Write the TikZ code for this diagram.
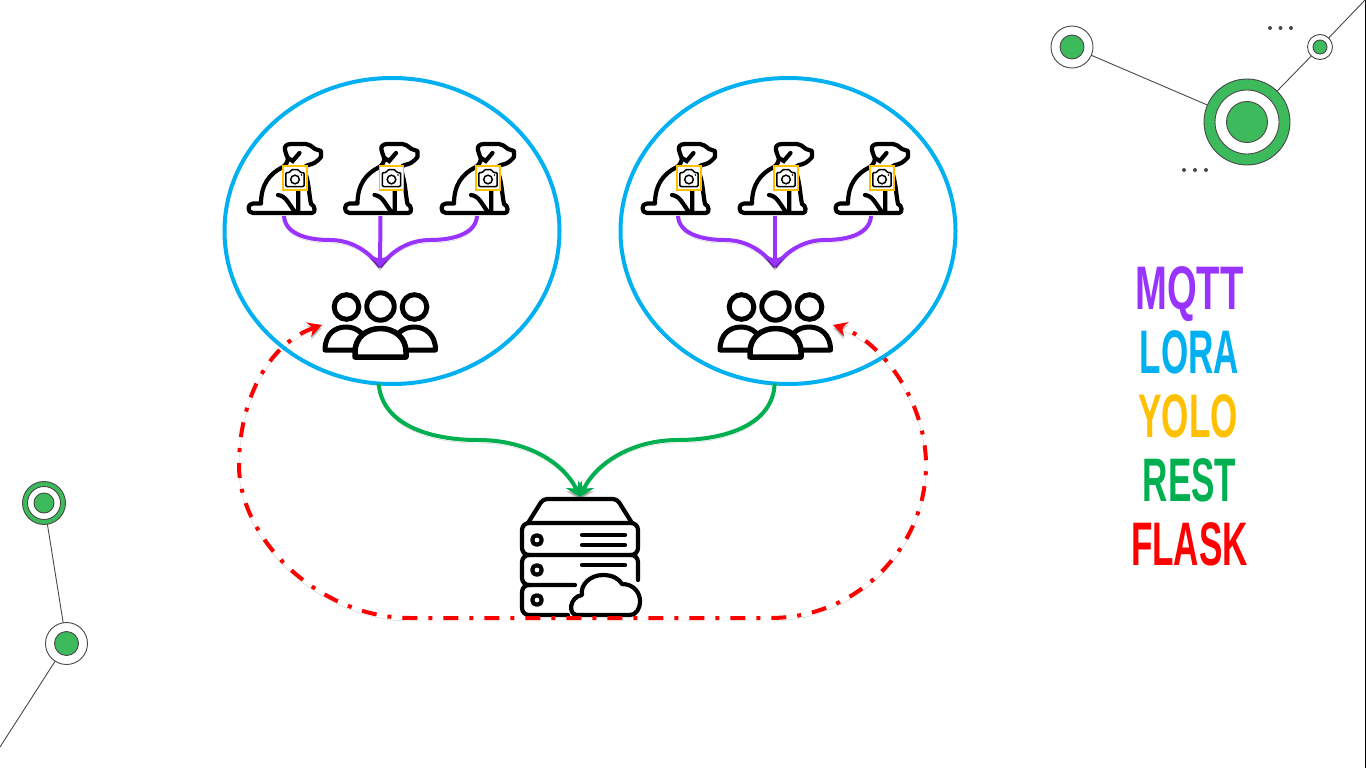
\documentclass[tikz,border=0pt]{standalone}
\usepackage{fontspec}
\usetikzlibrary{shapes.geometric,arrows.meta}
\newfontfamily\labelfont[FakeStretch=0.57]{Liberation Sans}
\definecolor{mqttcol}{HTML}{9933FF}
\definecolor{loracol}{HTML}{00B0F0}
\definecolor{yolocol}{HTML}{FFC000}
\definecolor{restcol}{HTML}{00B050}
\definecolor{flaskcol}{HTML}{FF0000}
\definecolor{dotgreen}{HTML}{3DBA5B}
\definecolor{dotline}{HTML}{484848}
\tikzset{
  softshadow/.style={preaction={draw=black,opacity=.2,transform canvas={yshift=-3pt}}},
  zone/.style={ellipse,draw=loracol,line width=4pt,minimum width=335pt,minimum height=306pt,inner sep=0,outer sep=0},
  iconbox/.style={inner sep=0,outer sep=0,minimum width=#1},
  ring/.style={circle,draw=dotline,line width=.9pt,fill=white,inner sep=0,outer sep=0,minimum size=#1},
  core/.style={circle,draw=dotline,line width=.9pt,fill=dotgreen,inner sep=0,outer sep=0,minimum size=#1},
  wire/.style={draw=dotline,line width=.9pt},
  tinydot/.style={circle,fill=dotline,inner sep=0,minimum size=4pt},
  mqttflow/.style={draw=mqttcol,line width=4pt,softshadow},
  restflow/.style={draw=restcol,line width=4pt,softshadow,-{Stealth[length=14pt,width=18pt]}},
  flaskflow/.style={draw=flaskcol,line width=4pt,softshadow,dash pattern=on 15pt off 11pt on 4pt off 11pt,
    {Stealth[length=14pt,width=15pt]}-{Stealth[length=14pt,width=15pt]}},
  protocol/.style={font=\labelfont\bfseries\fontsize{61.5}{61.5}\selectfont,inner sep=0,anchor=base,text=#1},
  dogicon/.pic={
    \draw [black,line width=4.2pt,line join=round,line cap=round,fill=white]
      (-23,24.5) -- (-31,24.5) .. controls (-37,24.5) and (-37,34) .. (-31,34) -- (28,34)
      .. controls (32,34) and (31,26) .. (27,25) .. controls (25,15) and (25,6) .. (22,-4)
      .. controls (21,-10) and (20,-13) .. (24,-14) .. controls (29,-15) and (32,-16) .. (37,-22)
      -- (37,-28) -- (31,-30) .. controls (27,-33) and (25,-35) .. (22,-35) -- (7,-35)
      .. controls (2,-35) and (0,-32) .. (1,-29) .. controls (2,-25) and (3,-23) .. (4,-20)
      .. controls (3,-15) and (0,-12) .. (-3,-11) .. controls (-14,-5) and (-23,5) .. (-23,24.5);
    \draw [black,line width=4.2pt,line cap=round]
      (4,-21) -- (8.7,-18) -- (15.5,-26)
      (-6,16) .. controls (2,17) and (4,24) .. (11,33)
      (14.3,9) -- (14.3,33);
    \node [draw=yolocol,line width=1.3pt,fill=white,minimum size=24pt,inner sep=0,outer sep=0] at (11,-1) {};
    \draw [black,line width=1.5pt,line join=round,fill=white,rounded corners=1.2pt]
      (1.8,-6.5) -- (6,-6.5) -- (7.5,-9.5) -- (14.5,-9.5) -- (16,-6.5) -- (20.2,-6.5) -- (20.2,7.5) -- (1.8,7.5) -- cycle;
    \draw [black,line width=1.5pt] (11,0.5) circle (4.3);
    \fill [black] (17.5,-4) circle (.8);
  },
  peopleicon/.pic={
    \draw [black,line width=5pt,fill=white] (-33.5,-18) circle (12.3) (34.5,-18) circle (12.3) (.5,-18.5) circle (13.7);
    \draw [black,line width=5pt,line join=round,fill=white]
      (-55,25) .. controls (-55,9) and (-45,2) .. (-34,2) .. controls (-23,2) and (-13,9) .. (-13,25) -- cycle;
    \draw [black,line width=5pt,line join=round,fill=white]
      (55.5,25) .. controls (55.5,9) and (45,2) .. (34,2) .. controls (23,2) and (13,9) .. (13,25) -- cycle;
    \draw [black,line width=5.5pt,line join=round,fill=white]
      (-25,32) -- (-25,27) .. controls (-25,13) and (-14,3.5) .. (.5,3.5) .. controls (15,3.5) and (26,13) .. (26,27) -- (26,32) -- cycle;
  },
  servericon/.pic={
    \begin{scope}[black,line width=4.2pt,line cap=round,line join=round]
      \draw [rounded corners=4pt] (-52,-34) -- (-37,-58) -- (37,-58) -- (52,-34);
      \draw [rounded corners=7pt] (-52,-34) -- (58,-34) -- (58,-2) -- (-58,-2) -- (-58,-34) -- (-52,-34);
      \draw [rounded corners=7pt] (-50,-2) -- (-58,-2) -- (-58,28) -- (-5,28);
      \draw [rounded corners=7pt] (50,-2) -- (58,-2) -- (58,23);
      \draw [rounded corners=7pt] (-50,28) -- (-58,28) -- (-58,58) -- (-12,58);
      \foreach \ya in {-17,13,43}
        \draw (-43,\ya) circle (4.8);
      \foreach \ya/\xa in {-22/45,-12/45,8/45}
        \draw (2,\ya) -- (\xa,\ya);
      \draw [fill=white] (-3,58) .. controls (-12,58) and (-11,40) .. (2,38)
        .. controls (0,28) and (10,18) .. (23,18) .. controls (33,18) and (39,22) .. (42,27)
        .. controls (54,27) and (60,36) .. (60,44) .. controls (60,52) and (56,58) .. (50,58) -- cycle;
    \end{scope}
  },
}
\begin{document}
\begin{tikzpicture}[x=1pt,y=-1pt]
  \useasboundingbox (0,0) rectangle (1366,768);
  \draw [black,line width=1pt] (1365.5,0) -- (1365.5,768);

  % background network, top right
  \node [ring=42pt] (n1) at (1072,47) {};
  \node [core=24pt] at (n1) {};
  \node [ring=25pt] (n2) at (1320,47) {};
  \node [core=14pt] at (n2) {};
  \node [core=86pt] (n3) at (1247,122) {};
  \node [ring=64pt] at (n3) {};
  \node [core=41pt] at (n3) {};
  \coordinate (e1) at (1366,-1);
  \foreach \from/\to in {n1/n3,n3/n2,n2/e1}
    \draw [wire] (\from) -- (\to);
  \foreach \x in {1270,1280.5,1291}
    \node [tinydot] (t\x) at (\x,28) {};
  \foreach \x in {1184,1195,1206}
    \node [tinydot] (b\x) at (\x,170) {};

  % background network, bottom left
  \node [core=43pt] (n4) at (44,503) {};
  \node [ring=33pt] at (n4) {};
  \node [core=20pt] at (n4) {};
  \node [ring=42pt] (n5) at (66.5,643.5) {};
  \node [core=24pt] at (n5) {};
  \coordinate (e2) at (0,747);
  \foreach \from/\to in {n4/n5,n5/e2}
    \draw [wire] (\from) -- (\to);

  % the two zones
  \node [zone] (z1) at (392,231) {};
  \node [zone] (z2) at (788,231) {};

  \foreach \name/\x in {d1/284,d2/380.5,d3/477,d4/678,d5/775,d6/871}{
    \node [iconbox=74pt,minimum height=74pt] (\name) at (\x,179) {};
    \pic at (\name) {dogicon};
  }
  \node [iconbox=116pt,minimum height=70pt] (p1) at (380,325) {};
  \pic at (p1) {peopleicon};
  \node [iconbox=116pt,minimum height=70pt] (p2) at (775,325) {};
  \pic at (p2) {peopleicon};
  \node [iconbox=120pt,minimum height=120pt] (s1) at (580,557) {};
  \pic at (s1) {servericon};

  \coordinate (h1) at (380,267);
  \coordinate (h2) at (775,267);

  \draw [mqttflow] (d1.south) .. controls (285,233) and (305,240) .. (330,240)
    .. controls (350,240) and (368,250) .. (h1);
  \draw [mqttflow] (d3.south) .. controls (476,233) and (455,240) .. (430,240)
    .. controls (410,240) and (392,250) .. (h1);
  \draw [mqttflow,-{Stealth[length=12pt,width=22pt]}] (d2.south) -- (h1);
  \draw [mqttflow] (d4.south) .. controls (679,233) and (700,240) .. (725,240)
    .. controls (745,240) and (763,250) .. (h2);
  \draw [mqttflow] (d6.south) .. controls (870,233) and (850,240) .. (825,240)
    .. controls (805,240) and (787,250) .. (h2);
  \draw [mqttflow,-{Stealth[length=12pt,width=22pt]}] (d5.south) -- (h2);

  \draw [restflow] (z1.265.5) .. controls (382,425) and (430,440) .. (478,440)
    .. controls (530,440) and (565,465) .. (s1.north);
  \draw [restflow] (z2.265.5) .. controls (773,425) and (725,440) .. (678,440)
    .. controls (630,440) and (595,465) .. (s1.north);

  \draw [flaskflow] (p1.west) .. controls (265,345) and (239,405) .. (239,465)
    .. controls (239,540) and (320,618) .. (410,618) -- (770,618)
    .. controls (860,618) and (926,545) .. (926,465)
    .. controls (926,400) and (880,340) .. (p2.east);

  \node [protocol=mqttcol] (l1) at (1189.5,309) {\scalebox{1.09}[1]{MQTT}};
  \node [protocol=loracol] (l2) at (1189.5,373) {LORA};
  \node [protocol=yolocol] (l3) at (1188,437) {YOLO};
  \node [protocol=restcol] (l4) at (1189.5,501) {REST};
  \node [protocol=flaskcol] (l5) at (1189.5,565) {FLASK};
\end{tikzpicture}
\end{document}
